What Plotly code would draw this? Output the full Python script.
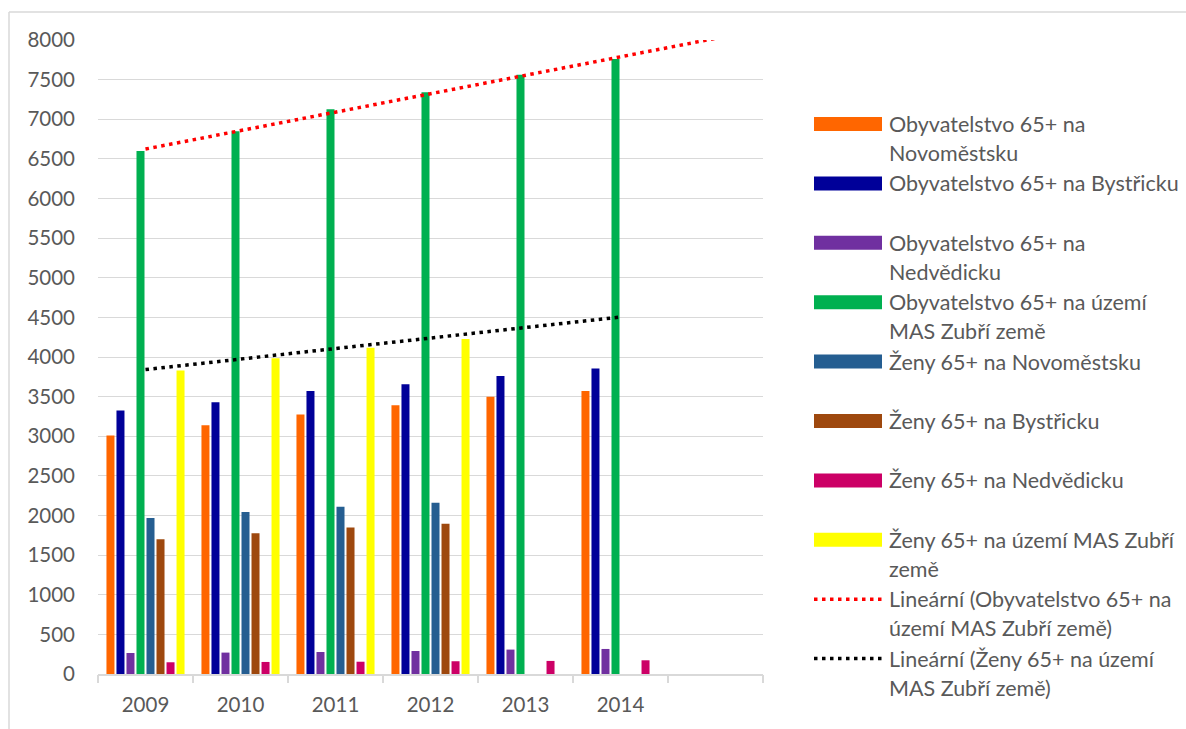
import numpy as np
import plotly.graph_objects as go

# ---- data -------------------------------------------------------------
years = [2009, 2010, 2011, 2012, 2013, 2014]
year_labels = ["2009", "2010", "2011", "2012", "2013", "2014"]

obyv_novomestsko = [3010, 3140, 3275, 3390, 3500, 3570]
obyv_bystricko = [3325, 3430, 3570, 3655, 3760, 3855]
obyv_nedvedicko = [265, 270, 278, 290, 308, 316]
obyv_mas = [6600, 6850, 7125, 7340, 7560, 7760]
zeny_novomestsko = [1970, 2045, 2110, 2160, None, None]
zeny_bystricko = [1700, 1775, 1848, 1895, None, None]
zeny_nedvedicko = [148, 152, 155, 161, 165, 173]
zeny_mas = [3830, 3985, 4118, 4228, None, None]

series_names = [
    "Obyvatelstvo 65+ na Novoměstsku",
    "Obyvatelstvo 65+ na Bystřicku",
    "Obyvatelstvo 65+ na Nedvědicku",
    "Obyvatelstvo 65+ na území MAS Zubří země",
    "Ženy 65+ na Novoměstsku",
    "Ženy 65+ na Bystřicku",
    "Ženy 65+ na Nedvědicku",
    "Ženy 65+ na území MAS Zubří země",
]
series_values = [
    obyv_novomestsko, obyv_bystricko, obyv_nedvedicko, obyv_mas,
    zeny_novomestsko, zeny_bystricko, zeny_nedvedicko, zeny_mas,
]
series_colors = ["#FF6600", "#000099", "#7030A0", "#00B050",
                 "#255E91", "#9E480E", "#CC0066", "#FFFF00"]

# legend text, wrapped the way it is laid out beside the chart
legend_lines = [
    ["Obyvatelstvo 65+ na", "Novoměstsku"],
    ["Obyvatelstvo 65+ na Bystřicku"],
    ["Obyvatelstvo 65+ na", "Nedvědicku"],
    ["Obyvatelstvo 65+ na území", "MAS Zubří země"],
    ["Ženy 65+ na Novoměstsku"],
    ["Ženy 65+ na Bystřicku"],
    ["Ženy 65+ na Nedvědicku"],
    ["Ženy 65+ na území MAS Zubří", "země"],
    ["Lineární (Obyvatelstvo 65+ na", "území MAS Zubří země)"],
    ["Lineární (Ženy 65+ na území", "MAS Zubří země)"],
]

FONT = "Lato"
TEXT = "#595959"
GRID = "#D9D9D9"

# ---- geometry (pixels) ------------------------------------------------
W, H = 1186, 729
L, R, T, B = 98, 763, 40, 674
PW, PH = R - L, B - T


def px(xp):
    return (xp - L) / PW


def py(yp):
    return (B - yp) / PH


fig = go.Figure()

for name, vals, col in zip(series_names, series_values, series_colors):
    fig.add_trace(go.Bar(
        x=years, y=vals, name=name, marker_color=col,
        marker_line_width=0, showlegend=False,
    ))

# linear trendlines, fitted on the available years and projected forward
def trend(vals, x_end):
    xs = np.array([y for y, v in zip(years, vals) if v is not None], float)
    ys = np.array([v for v in vals if v is not None], float)
    k, q = np.polyfit(xs, ys, 1)
    xx = np.array([years[0], x_end], float)
    return xx, k * xx + q


tx, ty = trend(obyv_mas, 2015)
fig.add_trace(go.Scatter(
    x=tx, y=ty, mode="lines", xaxis="x2", showlegend=False,
    line=dict(color="#FF0000", width=3.5, dash="3.5px,4.5px"),
))
tx, ty = trend(zeny_mas, 2014)
fig.add_trace(go.Scatter(
    x=tx, y=ty, mode="lines", xaxis="x2", showlegend=False,
    line=dict(color="#000000", width=3.5, dash="3.5px,4.5px"),
))

# ---- manual legend ----------------------------------------------------
shapes = []
annotations = []
first_y = 124
step = 59.4
line_h = 29
sw_x0, sw_x1, text_x = 814, 882, 887
for i, lines in enumerate(legend_lines):
    yc = first_y + i * step
    if i < 8:
        shapes.append(dict(
            type="rect", xref="paper", yref="paper",
            x0=px(sw_x0), x1=px(sw_x1), y0=py(yc + 7), y1=py(yc - 7),
            fillcolor=series_colors[i], line_width=0,
        ))
    else:
        shapes.append(dict(
            type="line", xref="paper", yref="paper",
            x0=px(sw_x0), x1=px(sw_x1 + 2), y0=py(yc), y1=py(yc),
            line=dict(color="#FF0000" if i == 8 else "#000000",
                      width=3.5, dash="3.5px,4.5px"),
        ))
    for j, txt in enumerate(lines):
        annotations.append(dict(
            text=txt, xref="paper", yref="paper", showarrow=False,
            x=px(text_x), y=py(yc + j * line_h),
            xanchor="left", yanchor="middle",
            font=dict(family=FONT, size=21.5, color=TEXT),
        ))

# chart frame (top and left edges)
shapes.append(dict(type="line", xref="paper", yref="paper",
                   x0=px(9), x1=px(W + 5), y0=py(12), y1=py(12),
                   line=dict(color=GRID, width=1.5)))
shapes.append(dict(type="line", xref="paper", yref="paper",
                   x0=px(9), x1=px(9), y0=py(12), y1=py(H + 5),
                   line=dict(color=GRID, width=1.5)))

fig.update_layout(
    width=W, height=H,
    margin=dict(l=L, r=W - R, t=T, b=H - B, pad=0),
    paper_bgcolor="white", plot_bgcolor="white",
    barmode="group", bargap=0.157, bargroupgap=0.2,
    font=dict(family=FONT, size=20, color=TEXT),
    xaxis=dict(
        range=[2008.5, 2015.5], tickvals=years, ticktext=year_labels,
        showgrid=False, zeroline=False, ticks="",
        showline=True, linecolor=GRID, linewidth=1.5,
        tickfont=dict(family=FONT, size=20.5, color=TEXT),
        ticklabelstandoff=12,
    ),
    xaxis2=dict(
        overlaying="x", anchor="y", side="bottom",
        range=[2008.5, 2015.5],
        tickvals=[y - 0.5 for y in years] + [years[-1] + 0.5, years[-1] + 1.5],
        ticks="outside", ticklen=8, tickwidth=1.5, tickcolor=GRID,
        showticklabels=False, showgrid=False, zeroline=False, showline=False,
    ),
    yaxis=dict(
        range=[0, 8000], dtick=500, showgrid=True,
        gridcolor=GRID, gridwidth=1.2, zeroline=False, showline=False,
        tickfont=dict(family=FONT, size=20.5, color=TEXT),
        ticklabelstandoff=22,
    ),
    shapes=shapes,
    annotations=annotations,
)

fig.write_html("out.html")
